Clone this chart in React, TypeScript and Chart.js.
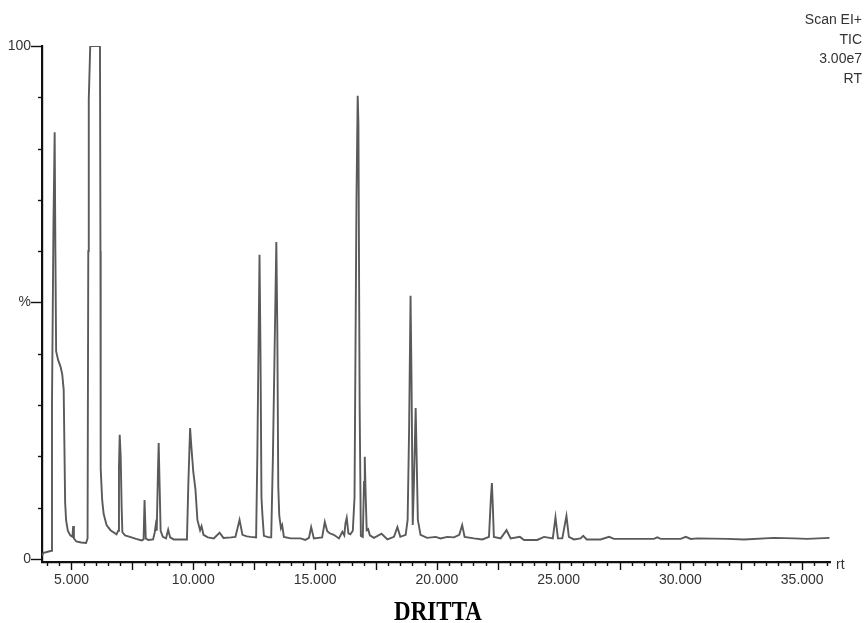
import { useEffect, useRef } from 'react';
import { Chart, registerables } from 'chart.js';

Chart.register(...registerables);

// Retention time (min) and relative intensity (%)
const retentionTimes = [
  3.79, 3.85, 3.95, 4.10, 4.17, 4.20, 4.26, 4.31, 4.34, 4.37, 4.45, 4.55, 4.62, 4.68, 4.71, 4.74, 4.78, 4.85, 4.95,
  5.04, 5.07, 5.10, 5.20, 5.40, 5.60, 5.66, 5.69, 5.71, 5.77, 6.17, 6.19, 6.20, 6.26, 6.32, 6.44, 6.60, 6.85, 6.92,
  6.95, 6.98, 7.02, 7.06, 7.09, 7.20, 7.40, 7.65, 7.88, 7.96, 8.00, 8.05, 8.15, 8.35, 8.42, 8.46, 8.50, 8.55, 8.58,
  8.62, 8.66, 8.75, 8.88, 8.97, 9.05, 9.20, 9.50, 9.74, 9.80, 9.87, 9.92, 10.00, 10.09, 10.17, 10.28, 10.34, 10.42,
  10.60, 10.84, 11.08, 11.24, 11.55, 11.73, 11.90, 12.02, 12.20, 12.35, 12.58, 12.63, 12.72, 12.76, 12.80, 12.84,
  12.90, 13.10, 13.20, 13.27, 13.41, 13.45, 13.49, 13.53, 13.60, 13.65, 13.72, 14.00, 14.40, 14.60, 14.75, 14.84,
  14.95, 15.29, 15.40, 15.50, 15.60, 15.77, 15.98, 16.12, 16.20, 16.25, 16.30, 16.37, 16.45, 16.55, 16.62, 16.70,
  16.75, 16.78, 16.83, 16.88, 16.96, 17.01, 17.04, 17.08, 17.12, 17.18, 17.25, 17.42, 17.73, 17.97, 18.24, 18.38,
  18.50, 18.72, 18.80, 18.86, 18.92, 18.96, 19.01, 19.06, 19.13, 19.17, 19.22, 19.33, 19.60, 19.95, 20.15, 20.43,
  20.70, 20.92, 21.04, 21.14, 21.52, 21.87, 22.14, 22.22, 22.26, 22.30, 22.34, 22.62, 22.86, 23.03, 23.41, 23.58,
  24.12, 24.40, 24.76, 24.87, 24.97, 25.15, 25.32, 25.42, 25.63, 25.90, 26.01, 26.15, 26.72, 27.07, 27.27, 28.91,
  29.05, 29.19, 30.01, 30.22, 30.42, 30.70, 31.93, 32.61, 33.84, 34.67, 35.21, 36.12,
];

const intensities = [
  0.6, 1.2, 1.3, 1.5, 1.6, 30, 65, 83.2, 60, 40.5, 38.8, 37.5, 36, 33, 22, 11, 7.5, 5.5, 4.6,
  4.3, 6.4, 4.0, 3.4, 3.2, 3.1, 4.0, 60, 89.5, 100, 100, 60, 17.5, 11.5, 8.8, 6.6, 5.6, 4.8, 5.5,
  18, 24.2, 20, 10, 5.2, 4.6, 4.3, 3.9, 3.6, 3.8, 11.5, 4.0, 3.7, 3.8, 5.2, 6.6, 5.5, 17, 22.6,
  14, 5.5, 4.3, 4.0, 5.7, 4.2, 3.8, 3.8, 3.8, 15, 25.5, 22, 17, 13.5, 7.6, 5.6, 6.4, 4.7,
  4.2, 4.0, 5.1, 4.1, 4.2, 4.3, 7.6, 4.7, 4.4, 4.3, 4.2, 20, 59.3, 40, 12, 8.5,
  4.5, 4.2, 4.2, 20, 61.8, 45, 14, 8.5, 6.0, 6.6, 4.3, 4.0, 4.0, 3.7, 4.1, 6.2,
  4.0, 4.2, 7.2, 5.4, 5.0, 4.7, 4.0, 5.3, 4.6, 7.0, 8.0, 5.0, 4.8, 5.5, 12, 70,
  90.3, 85, 30, 4.5, 4.3, 15, 19.9, 12, 5.6, 5.8, 4.6, 4.1, 4.9, 3.8, 4.3, 6.2,
  4.3, 4.7, 7.6, 25, 51.3, 35, 6.6, 15, 29.4, 20, 7.6, 4.7, 4.1, 4.3, 4.0, 4.3,
  4.2, 4.7, 6.6, 4.3, 4.0, 3.8, 4.3, 12, 14.8, 10, 4.3, 4.0, 5.6, 4.0, 4.3, 3.7,
  3.7, 4.3, 4.0, 8.1, 4.0, 4.0, 8.4, 4.3, 3.8, 4.0, 4.5, 3.8, 3.8, 4.3, 3.9, 3.9,
  4.2, 3.9, 3.9, 4.3, 3.9, 4.0, 3.9, 3.8, 4.1, 4.0, 3.9, 4.1,
];

const xLabelTicks = [5, 10, 15, 20, 25, 30, 35];
const yLabelTicks = [0, 50, 100];
const yLabelTexts = ['0', '%', '100'];
const headerLines = ['Scan EI+', 'TIC', '3.00e7', 'RT'];
const sampleName = 'DRITTA';
const axisUnit = 'rt';
const xMinorStep = 0.5;
const xMajorEvery = 5; // every 5 minor steps = 2.5 min
const yMinorStep = 10;

const tickMarkPlugin = {
  id: 'tickMarks',
  afterDraw(chart: any) {
    const { ctx, chartArea } = chart;
    const x = chart.scales.x;
    const y = chart.scales.y;
    ctx.save();
    ctx.strokeStyle = '#111';
    ctx.lineWidth = 1.4;
    const kStart = Math.ceil(x.min / xMinorStep);
    const kEnd = Math.floor(x.max / xMinorStep);
    for (let k = kStart; k <= kEnd; k++) {
      const px = Math.round(x.getPixelForValue(k * xMinorStep)) + 0.5;
      const len = k % xMajorEvery === 0 ? 8 : 4;
      ctx.beginPath();
      ctx.moveTo(px, chartArea.bottom);
      ctx.lineTo(px, chartArea.bottom + len);
      ctx.stroke();
    }
    for (let v = 0; v <= 100; v += yMinorStep) {
      const py = Math.round(y.getPixelForValue(v)) + 0.5;
      const len = yLabelTicks.includes(v) ? 11 : 4;
      ctx.beginPath();
      ctx.moveTo(chartArea.left, py);
      ctx.lineTo(chartArea.left - len, py);
      ctx.stroke();
    }
    ctx.restore();
  },
};

export default function App() {
  const canvasRef = useRef<HTMLCanvasElement | null>(null);

  useEffect(() => {
    if (!canvasRef.current) return;
    const points = retentionTimes.map((t, i) => ({ x: t, y: intensities[i] }));
    const chart = new Chart(canvasRef.current, {
      type: 'line',
      data: {
        datasets: [
          {
            data: points,
            borderColor: '#5a5a5a',
            borderWidth: 1.9,
            pointRadius: 0,
            tension: 0,
            fill: false,
          },
        ],
      },
      options: {
        animation: false,
        responsive: true,
        maintainAspectRatio: false,
        layout: { padding: { top: 46, right: 36, left: 0, bottom: 0 } },
        plugins: {
          legend: { display: false },
          tooltip: { enabled: false },
        },
        scales: {
          x: {
            type: 'linear',
            min: 3.79,
            max: 36.14,
            afterFit: (s: any) => {
              s.height = 61;
            },
            afterBuildTicks: (s: any) => {
              s.ticks = xLabelTicks.map((v) => ({ value: v }));
            },
            grid: { display: true, drawOnChartArea: false, drawTicks: false },
            border: { display: true, color: '#111', width: 2.2 },
            ticks: {
              autoSkip: false,
              maxRotation: 0,
              padding: 10,
              color: '#333',
              font: { family: '"Liberation Sans", Arial, sans-serif', size: 14 },
              callback: (v: any) => Number(v).toFixed(3),
            },
          },
          y: {
            type: 'linear',
            min: -0.6,
            max: 100,
            afterFit: (s: any) => {
              s.width = 42;
            },
            afterBuildTicks: (s: any) => {
              s.ticks = yLabelTicks.map((v) => ({ value: v }));
            },
            grid: { display: true, drawOnChartArea: false, drawTicks: false },
            border: { display: true, color: '#111', width: 2.2 },
            ticks: {
              autoSkip: false,
              padding: 11,
              color: '#333',
              font: { family: '"Liberation Sans", Arial, sans-serif', size: 14 },
              callback: (v: any) => {
                const i = yLabelTicks.indexOf(Number(v));
                return i >= 0 ? yLabelTexts[i] : '';
              },
            },
          },
        },
      },
      plugins: [tickMarkPlugin],
    });
    return () => chart.destroy();
  }, []);

  return (
    <div style={{ position: 'fixed', left: 0, top: 0, width: 866, height: 623, background: '#fff' }}>
      <canvas ref={canvasRef} />
      <div
        style={{
          position: 'absolute',
          right: 4,
          top: 10,
          textAlign: 'right',
          lineHeight: '19.7px',
          fontFamily: '"Liberation Sans", Arial, sans-serif',
          fontSize: 14,
          color: '#333',
        }}
      >
        {headerLines.map((l) => (
          <div key={l}>{l}</div>
        ))}
      </div>
      <div
        style={{
          position: 'absolute',
          left: 836,
          top: 556,
          fontFamily: '"Liberation Sans", Arial, sans-serif',
          fontSize: 14,
          lineHeight: '16px',
          color: '#333',
        }}
      >
        {axisUnit}
      </div>
      <div
        style={{
          position: 'absolute',
          left: 438,
          top: 612,
          transform: 'translate(-50%, -50%) scaleY(1.15)',
          fontFamily: '"Liberation Serif", "Times New Roman", serif',
          fontWeight: 'bold',
          fontSize: 23,
          lineHeight: '26px',
          color: '#000',
          whiteSpace: 'nowrap',
        }}
      >
        {sampleName}
      </div>
    </div>
  );
}
